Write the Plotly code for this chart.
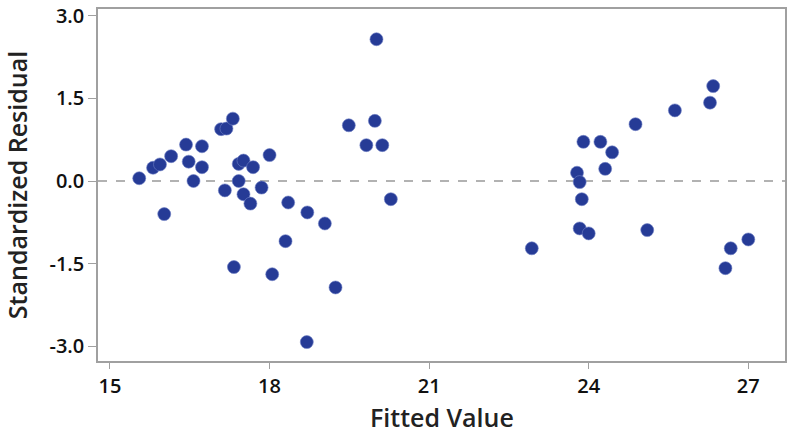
import plotly.graph_objects as go

fitted = [15.55, 15.81, 15.94, 16.02, 16.15, 16.43, 16.48, 16.57, 16.73, 16.73,
          17.09, 17.19, 17.31, 17.16, 17.33, 17.42, 17.42, 17.51, 17.51, 17.64,
          17.69, 17.85, 18.00, 18.05, 18.30, 18.35, 18.70, 18.71, 19.04, 19.24,
          19.49, 19.82, 19.98, 20.01, 20.12, 20.28, 22.93, 23.78, 23.83, 23.87,
          23.83, 24.00, 23.90, 24.22, 24.31, 24.44, 24.88, 25.10, 25.62, 26.28,
          26.34, 26.57, 26.67, 27.00]
std_resid = [0.05, 0.24, 0.30, -0.60, 0.45, 0.66, 0.35, 0.00, 0.63, 0.25,
             0.94, 0.95, 1.13, -0.17, -1.56, 0.31, 0.00, 0.37, -0.24, -0.41,
             0.25, -0.12, 0.47, -1.69, -1.09, -0.39, -2.92, -0.57, -0.77, -1.93,
             1.01, 0.65, 1.09, 2.57, 0.65, -0.33, -1.22, 0.15, -0.02, -0.33,
             -0.86, -0.95, 0.71, 0.71, 0.22, 0.52, 1.03, -0.89, 1.28, 1.42,
             1.72, -1.58, -1.22, -1.06]

x_ticks = [15, 18, 21, 24, 27]
y_ticks = [-3.0, -1.5, 0.0, 1.5, 3.0]
y_tick_labels = ["-3.0", "-1.5", "0.0", "1.5", "3.0"]
ref_level = 0.0
x_title = "Fitted Value"
y_title = "Standardized Residual"

fig = go.Figure()
fig.add_trace(go.Scatter(
    x=fitted, y=std_resid, mode="markers",
    marker=dict(size=13, color="#263b96", line=dict(width=0.6, color="#6f7fc4")),
    showlegend=False, hoverinfo="x+y",
))

fig.add_shape(type="line", xref="paper", x0=0, x1=1, yref="y", y0=ref_level, y1=ref_level,
              line=dict(color="#999999", width=1.5, dash="dash"), layer="below")

axis_font = dict(family="Open Sans", size=20, color="#111111", weight=600)
title_font = dict(family="Open Sans", size=25, color="#222222", weight=600)

fig.add_annotation(text=x_title, xref="paper", yref="paper", x=0.5, y=-0.1193,
                   xanchor="center", yanchor="top", height=24, valign="middle",
                   showarrow=False, font=title_font)

fig.update_layout(
    width=787, height=428,
    margin=dict(l=98, r=2, t=9, b=67, autoexpand=False),
    plot_bgcolor="white", paper_bgcolor="white",
    xaxis=dict(
        range=[14.775, 27.69], tickvals=x_ticks, ticktext=[str(v) for v in x_ticks],
        showgrid=False, zeroline=False, showline=True, linecolor="#a0a0a0", linewidth=1.5,
        mirror=True, ticks="outside", ticklen=6, tickcolor="#a0a0a0", tickwidth=1,
        tickfont=axis_font, automargin=False,
    ),
    yaxis=dict(
        range=[-3.263, 3.118], tickvals=y_ticks, ticktext=y_tick_labels,
        showgrid=False, zeroline=False, showline=True, linecolor="#a0a0a0", linewidth=1.5,
        mirror=True, ticks="outside", ticklen=8, tickcolor="#a0a0a0", tickwidth=1,
        tickfont=axis_font, automargin=False,
        title=dict(text=y_title, font=title_font, standoff=25),
    ),
)

fig.write_html(
    "out.html",
    config={"displayModeBar": False},
    post_script="document.body.style.margin='0';document.body.style.overflow='hidden';",
)
